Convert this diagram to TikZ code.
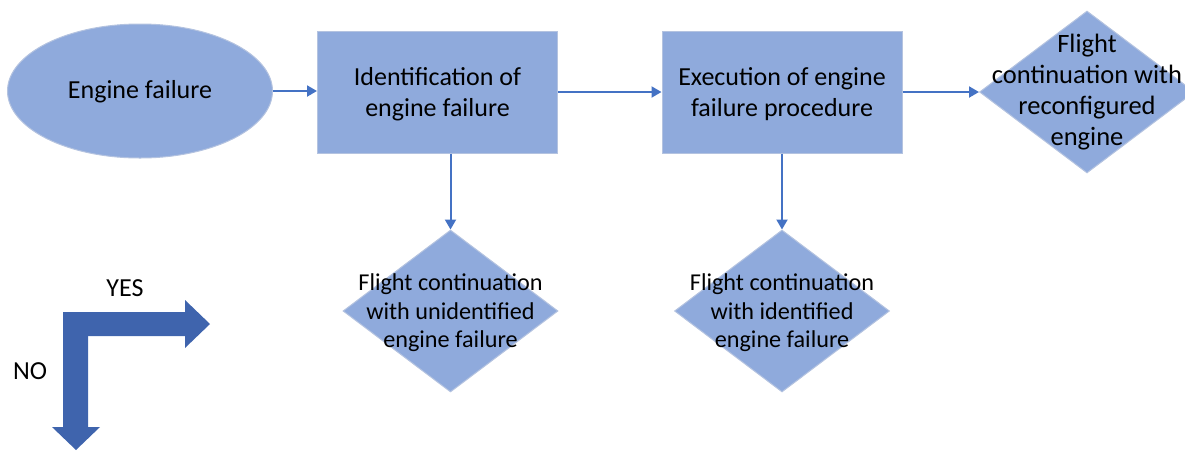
\documentclass[tikz,border=0pt]{standalone}
\usepackage{fontspec}
\setmainfont{Carlito}
\usetikzlibrary{shapes.geometric,arrows.meta}
\definecolor{boxfill}{HTML}{8FAADC}
\definecolor{boxedge}{HTML}{B4C3E0}
\definecolor{linkblue}{HTML}{4472C4}
\definecolor{keyblue}{HTML}{3F64AD}
\begin{document}
\begin{tikzpicture}[x=1pt,y=-1pt,
  every node/.style={font=\fontsize{26}{31}\selectfont, text=black},
  procbox/.style={rectangle, fill=boxfill, draw=boxedge, line width=1pt,
    minimum width=240pt, minimum height=122pt},
  boxtext/.style={align=center, inner sep=0pt},
  startshape/.style={ellipse, fill=boxfill, draw=boxedge, line width=1pt,
    minimum width=265pt, minimum height=134pt, inner sep=0pt},
  outcome/.style={diamond, fill=boxfill, draw=boxedge, line width=1pt,
    minimum width=215pt, minimum height=162pt, inner sep=0pt},
  outtext/.style={align=center, inner sep=0pt, font=\fontsize{24.2}{28.5}\selectfont},
  link/.style={draw=linkblue, line width=2pt,
    -{Triangle[length=10pt,width=11pt]}}
]
\useasboundingbox (0,0) rectangle (1185,451);

% main flow
\node[startshape] (e) at (140,91) {};
\node (et) at (140,92) {Engine failure};
\node[procbox] (r1) at (437.5,92) {};
\node[boxtext] (r1t) at (437.5,94) {Identification of\\engine failure};
\node[procbox] (r2) at (782,92) {};
\node[boxtext] (r2t) at (782,94) {Execution of engine\\failure procedure};

% outcomes
\begin{scope}
\clip (0,0) rectangle (1185,451);
\node[outcome] (d1) at (1087,92) {};
\end{scope}
\node[outtext, font=\fontsize{26.5}{31}\selectfont] (d1t) at (1087,92) {Flight\\continuation with\\reconfigured\\engine};
\node[outcome] (d2) at (450.5,311) {};
\node[outtext] (d2t) at (450.5,313) {Flight continuation\\with unidentified\\engine failure};
\node[outcome] (d3) at (782,311) {};
\node[outtext] (d3t) at (782,313) {Flight continuation\\with identified\\engine failure};

% connectors
\draw[link] (e.east) -- (e.east -| r1.west);
\draw[link] (r1.east) -- (r2.west);
\draw[link] (r2.east) -- (d1.west);
\draw[link] (r1.south -| d2.north) -- (d2.north);
\draw[link] (r2.south) -- (d3.north);

% YES / NO key
\fill[keyblue] (63,312) -- (185,312) -- (185,300) -- (210,324) -- (185,348)
  -- (185,336) -- (63,336) -- cycle;
\fill[keyblue] (63,336) -- (88,336) -- (88,427) -- (100,427) -- (76,450)
  -- (52,427) -- (63,427) -- cycle;
\node (yes) at (125,288) {YES};
\node (no) at (30,371) {NO};
\end{tikzpicture}
\end{document}
